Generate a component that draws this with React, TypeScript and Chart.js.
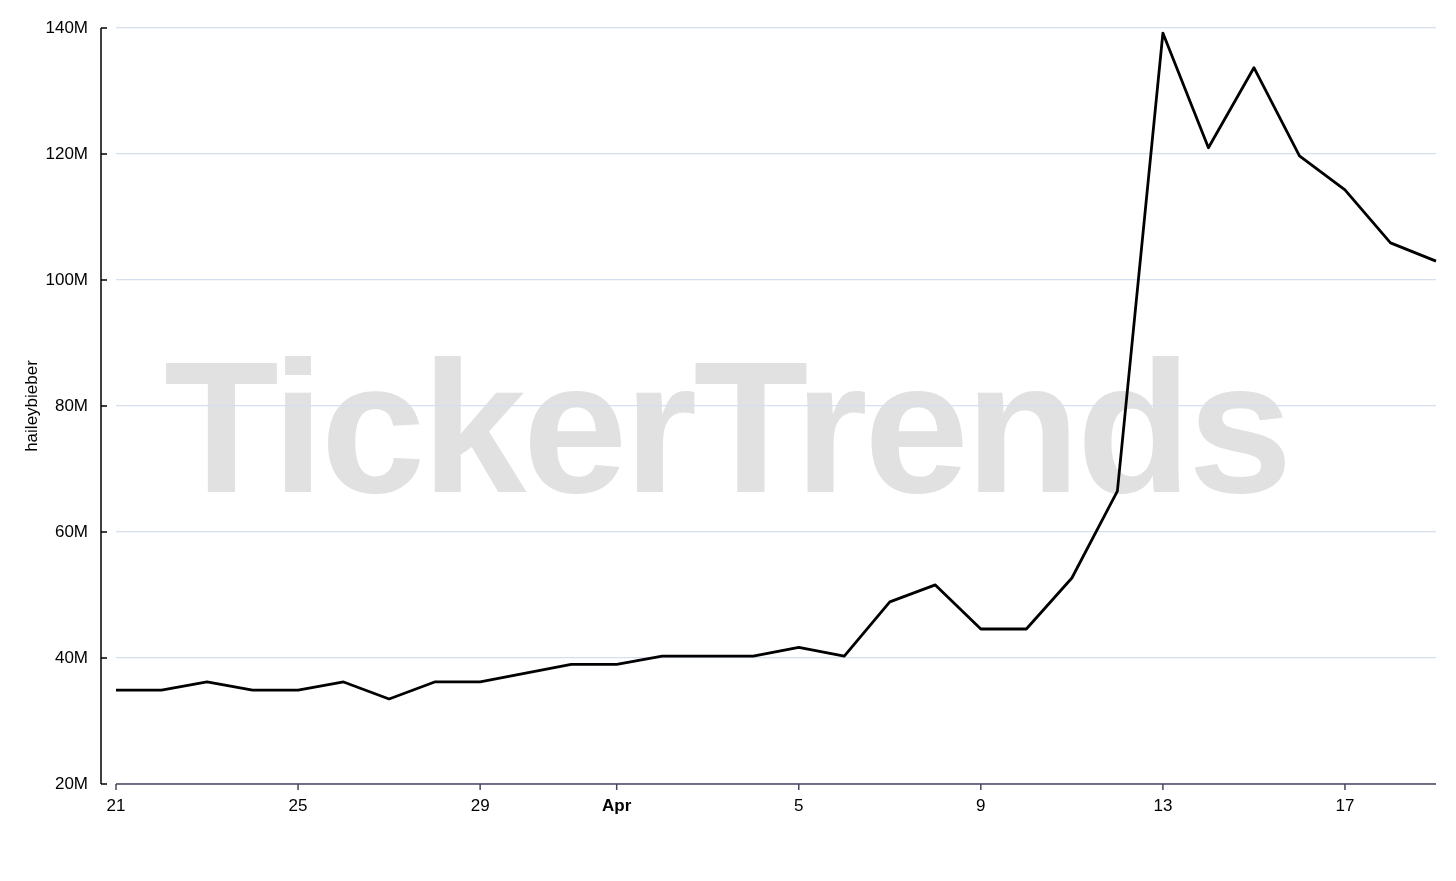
import React, { useEffect, useRef } from "react";
import { Chart, registerables } from "chart.js";

Chart.register(...registerables);

const categories = [
  "Mar 21", "Mar 22", "Mar 23", "Mar 24", "Mar 25", "Mar 26", "Mar 27", "Mar 28", "Mar 29", "Mar 30",
  "Mar 31", "Apr 1", "Apr 2", "Apr 3", "Apr 4", "Apr 5", "Apr 6", "Apr 7", "Apr 8", "Apr 9",
  "Apr 10", "Apr 11", "Apr 12", "Apr 13", "Apr 14", "Apr 15", "Apr 16", "Apr 17", "Apr 18", "Apr 19",
];

const xTickText = [
  "21", "", "", "", "25", "", "", "", "29", "",
  "", "Apr", "", "", "", "5", "", "", "", "9",
  "", "", "", "13", "", "", "", "17", "", "",
];

const valuesM = [
  34.9, 34.9, 36.2, 34.9, 34.9, 36.2, 33.5, 36.2, 36.2, 37.6,
  39.0, 39.0, 40.3, 40.3, 40.3, 41.7, 40.3, 48.9, 51.6, 44.6,
  44.6, 52.7, 66.5, 139.2, 121.0, 133.7, 119.7, 114.3, 105.9, 103.0,
];

const yTicksM = [20, 40, 60, 80, 100, 120, 140];
const seriesName = "haileybieber";
const watermark = "TickerTrends";

const FONT = "'Liberation Sans', Helvetica, Arial, sans-serif";

export default function App() {
  const ref = useRef<HTMLCanvasElement | null>(null);

  useEffect(() => {
    const canvas = ref.current;
    if (!canvas) return;

    const watermarkPlugin = {
      id: "watermark",
      beforeDraw(chart: any) {
        const ctx = chart.ctx as CanvasRenderingContext2D;
        ctx.save();
        ctx.font = `bold 188px ${FONT}`;
        ctx.fillStyle = "#e1e1e1";
        ctx.textBaseline = "alphabetic";
        ctx.textAlign = "left";
        (ctx as any).letterSpacing = "0px";
        const m = ctx.measureText(watermark);
        const ink = m.actualBoundingBoxLeft + m.actualBoundingBoxRight;
        const target = 1119;
        const ls = (target - ink) / (watermark.length - 1);
        (ctx as any).letterSpacing = `${ls}px`;
        ctx.fillText(watermark, 166 + m.actualBoundingBoxLeft, 492);
        ctx.restore();
      },
    };

    const axesPlugin = {
      id: "customAxes",
      afterDraw(chart: any) {
        const ctx = chart.ctx as CanvasRenderingContext2D;
        const area = chart.chartArea;
        const y = chart.scales.y;
        const x = chart.scales.x;
        ctx.save();
        const ax = 101;
        ctx.strokeStyle = "#000000";
        ctx.lineWidth = 1.5;
        ctx.beginPath();
        ctx.moveTo(ax, y.getPixelForValue(yTicksM[yTicksM.length - 1] * 1e6));
        ctx.lineTo(ax, y.getPixelForValue(yTicksM[0] * 1e6));
        ctx.stroke();
        yTicksM.forEach((v) => {
          const py = y.getPixelForValue(v * 1e6);
          ctx.beginPath();
          ctx.moveTo(ax, py);
          ctx.lineTo(ax + 6, py);
          ctx.stroke();
        });
        ctx.strokeStyle = "#474760";
        ctx.lineWidth = 1.5;
        ctx.beginPath();
        ctx.moveTo(area.left, area.bottom);
        ctx.lineTo(area.right, area.bottom);
        ctx.stroke();
        xTickText.forEach((t, i) => {
          if (!t) return;
          const px = x.getPixelForValue(i);
          ctx.beginPath();
          ctx.moveTo(px, area.bottom);
          ctx.lineTo(px, area.bottom + 6);
          ctx.stroke();
        });
        ctx.restore();
      },
    };

    const chart = new Chart(canvas, {
      type: "line",
      data: {
        labels: categories,
        datasets: [
          {
            label: seriesName,
            data: valuesM.map((v) => v * 1e6),
            borderColor: "#000000",
            borderWidth: 2.8,
            pointRadius: 0,
            fill: false,
            tension: 0,
            borderJoinStyle: "round",
          },
        ],
      },
      options: {
        responsive: false,
        animation: false,
        events: [],
        layout: { autoPadding: false, padding: { top: 28, right: 20, left: 0, bottom: 0 } },
        plugins: {
          legend: { display: false },
          tooltip: { enabled: false },
        },
        scales: {
          x: {
            type: "category",
            offset: false,
            border: { display: false },
            grid: { drawOnChartArea: false, drawTicks: true, tickLength: 12, tickColor: "rgba(0,0,0,0)" },
            ticks: {
              autoSkip: false,
              maxRotation: 0,
              minRotation: 0,
              padding: 0,
              color: "#000000",
              font: (c: any) => ({
                family: FONT,
                size: 17,
                weight: xTickText[c.index] === "Apr" ? "bold" : "normal",
              }),
              callback: (_v: any, i: number) => xTickText[i],
            },
            afterFit: (s: any) => {
              s.height = 97;
            },
          },
          y: {
            type: "linear",
            min: 20e6,
            max: 140e6,
            border: { display: false },
            grid: {
              color: "#d7def0",
              lineWidth: 1.2,
              drawTicks: true,
              tickLength: 28,
              tickColor: "rgba(0,0,0,0)",
            },
            ticks: {
              stepSize: 20e6,
              padding: 0,
              color: "#000000",
              font: { family: FONT, size: 17 },
              callback: (v: any) => `${Number(v) / 1e6}M`,
            },
            title: {
              display: true,
              text: seriesName,
              color: "#000000",
              font: { family: FONT, size: 17 },
              padding: { top: 22, bottom: 0 },
            },
            afterFit: (s: any) => {
              s.width = 116;
            },
          },
        },
      },
      plugins: [watermarkPlugin, axesPlugin],
    });

    return () => chart.destroy();
  }, []);

  return (
    <div style={{ position: "fixed", left: 0, top: 0, width: 1456, height: 881, background: "#ffffff" }}>
      <canvas ref={ref} width={1456} height={881} style={{ display: "block" }} />
    </div>
  );
}
